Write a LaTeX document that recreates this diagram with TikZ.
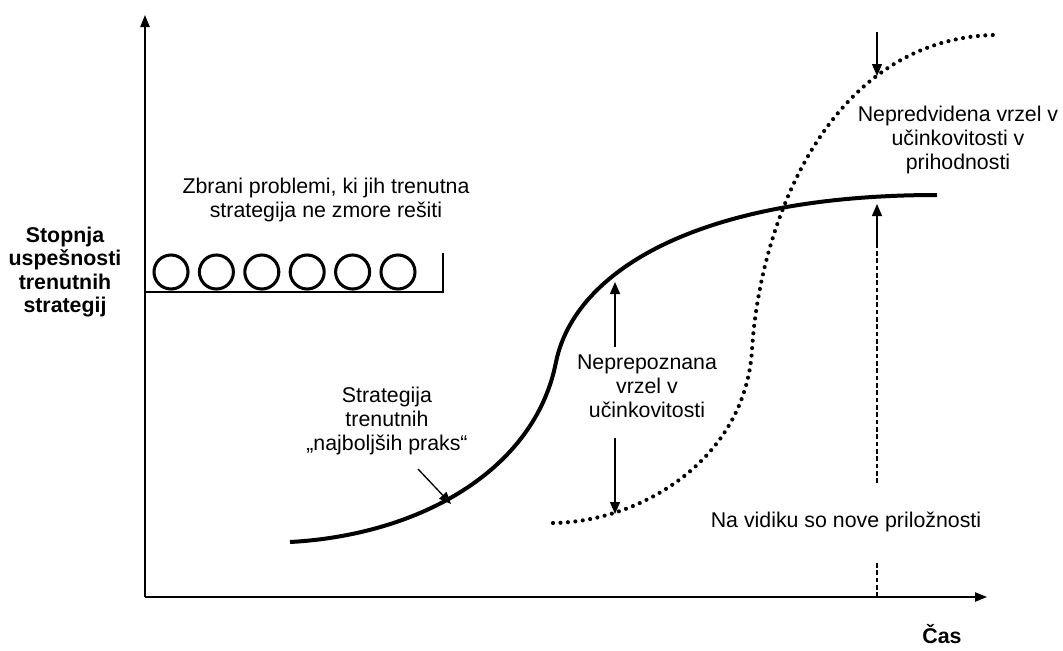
\documentclass[tikz,border=0pt]{standalone}
\usepackage{fontspec}
\setmainfont{Liberation Sans}
\usetikzlibrary{arrows.meta}

\begin{document}
\begin{tikzpicture}
  [x=0.75pt,y=-0.75pt,
   every node/.style={font=\fontsize{16}{18}\selectfont,align=center,inner sep=0pt},
   axis/.style={line width=1pt,-{Triangle[length=9pt,width=7pt]}},
   ptr/.style={line width=1pt,-{Triangle[length=9pt,width=7.5pt]}},
   curve/.style={line width=3pt},
   dots/.style={line width=3.1pt,line cap=round,dash pattern=on 0pt off 5.6pt},
   gap/.style={line width=0.9pt,dash pattern=on 3.5pt off 2pt},
   ball/.style={circle,draw,line width=2.3pt,minimum size=25.5pt}]
  \useasboundingbox (0,0) rectangle (1063,650);

  % axes
  \coordinate (o) at (145,597);
  \coordinate (ytop) at (145,15);
  \coordinate (xend) at (987,597);
  \draw[axis] (o) -- (ytop);
  \draw[axis] (o) -- (xend);
  \node[font=\bfseries\fontsize{16}{17.5}\selectfont] (ylab) at (65,272)
    {Stopnja\\uspešnosti\\trenutnih\\strategij};
  \node[font=\bfseries\fontsize{16}{17.5}\selectfont] (xlab) at (942,634) {Čas};

  % problems on the shelf
  \coordinate (shelfL) at (145,292);
  \coordinate (shelfR) at (443,292);
  \coordinate (shelfT) at (443,253);
  \draw[line width=1pt] (shelfL) -- (shelfR) -- (shelfT);
  \foreach \i in {1,...,6}
    \node[ball] (c\i) at ({125.6+45.4*\i},272) {};
  \node (prob) at (326,200) {Zbrani problemi, ki jih trenutna\\strategija ne zmore rešiti};

  % current strategy
  \coordinate (s0) at (290,542);
  \coordinate (s1) at (556,362);
  \coordinate (s2) at (937,195);
  \draw[curve] (s0) .. controls (420,535) and (535,470) .. (s1)
                    .. controls (575,270) and (700,195) .. (s2);
  \node (best) at (387,421) {Strategija\\trenutnih\\„najboljših praks“};
  \coordinate (b0) at (418,469);
  \coordinate (b1) at (451,504);
  \draw[ptr] (b0) -- (b1);

  % new strategy
  \coordinate (d0) at (553,523);
  \coordinate (d1) at (752,350);
  \coordinate (d2) at (993,35);
  \draw[dots] (d0) .. controls (640,522) and (745,460) .. (d1)
                   .. controls (760,220) and (830,40) .. (d2);

  % unrecognised gap
  \node (gap1) at (647,386) {Neprepoznana\\vrzel v\\učinkovitosti};
  \coordinate (g0) at (615,347);
  \coordinate (g1) at (615,282);
  \coordinate (g2) at (615,438);
  \coordinate (g3) at (615,514);
  \draw[ptr] (g0) -- (g1);
  \draw[ptr] (g2) -- (g3);

  % unforeseen gap
  \node (gap2) at (958,140) {Nepredvidena vrzel v\\učinkovitosti v\\prihodnosti};
  \coordinate (f0) at (877,32);
  \coordinate (f1) at (877,76);
  \draw[ptr] (f0) -- (f1);

  % new opportunities
  \node (opp) at (846,522) {Na vidiku so nove priložnosti};
  \coordinate (n0) at (877,597);
  \coordinate (n1) at (877,562);
  \coordinate (n2) at (877,483);
  \coordinate (n3) at (877,245);
  \coordinate (n4) at (877,204);
  \draw[gap] (n0) -- (n1);
  \draw[gap] (n2) -- (n3);
  \draw[ptr] (n3) -- (n4);
\end{tikzpicture}
\end{document}
